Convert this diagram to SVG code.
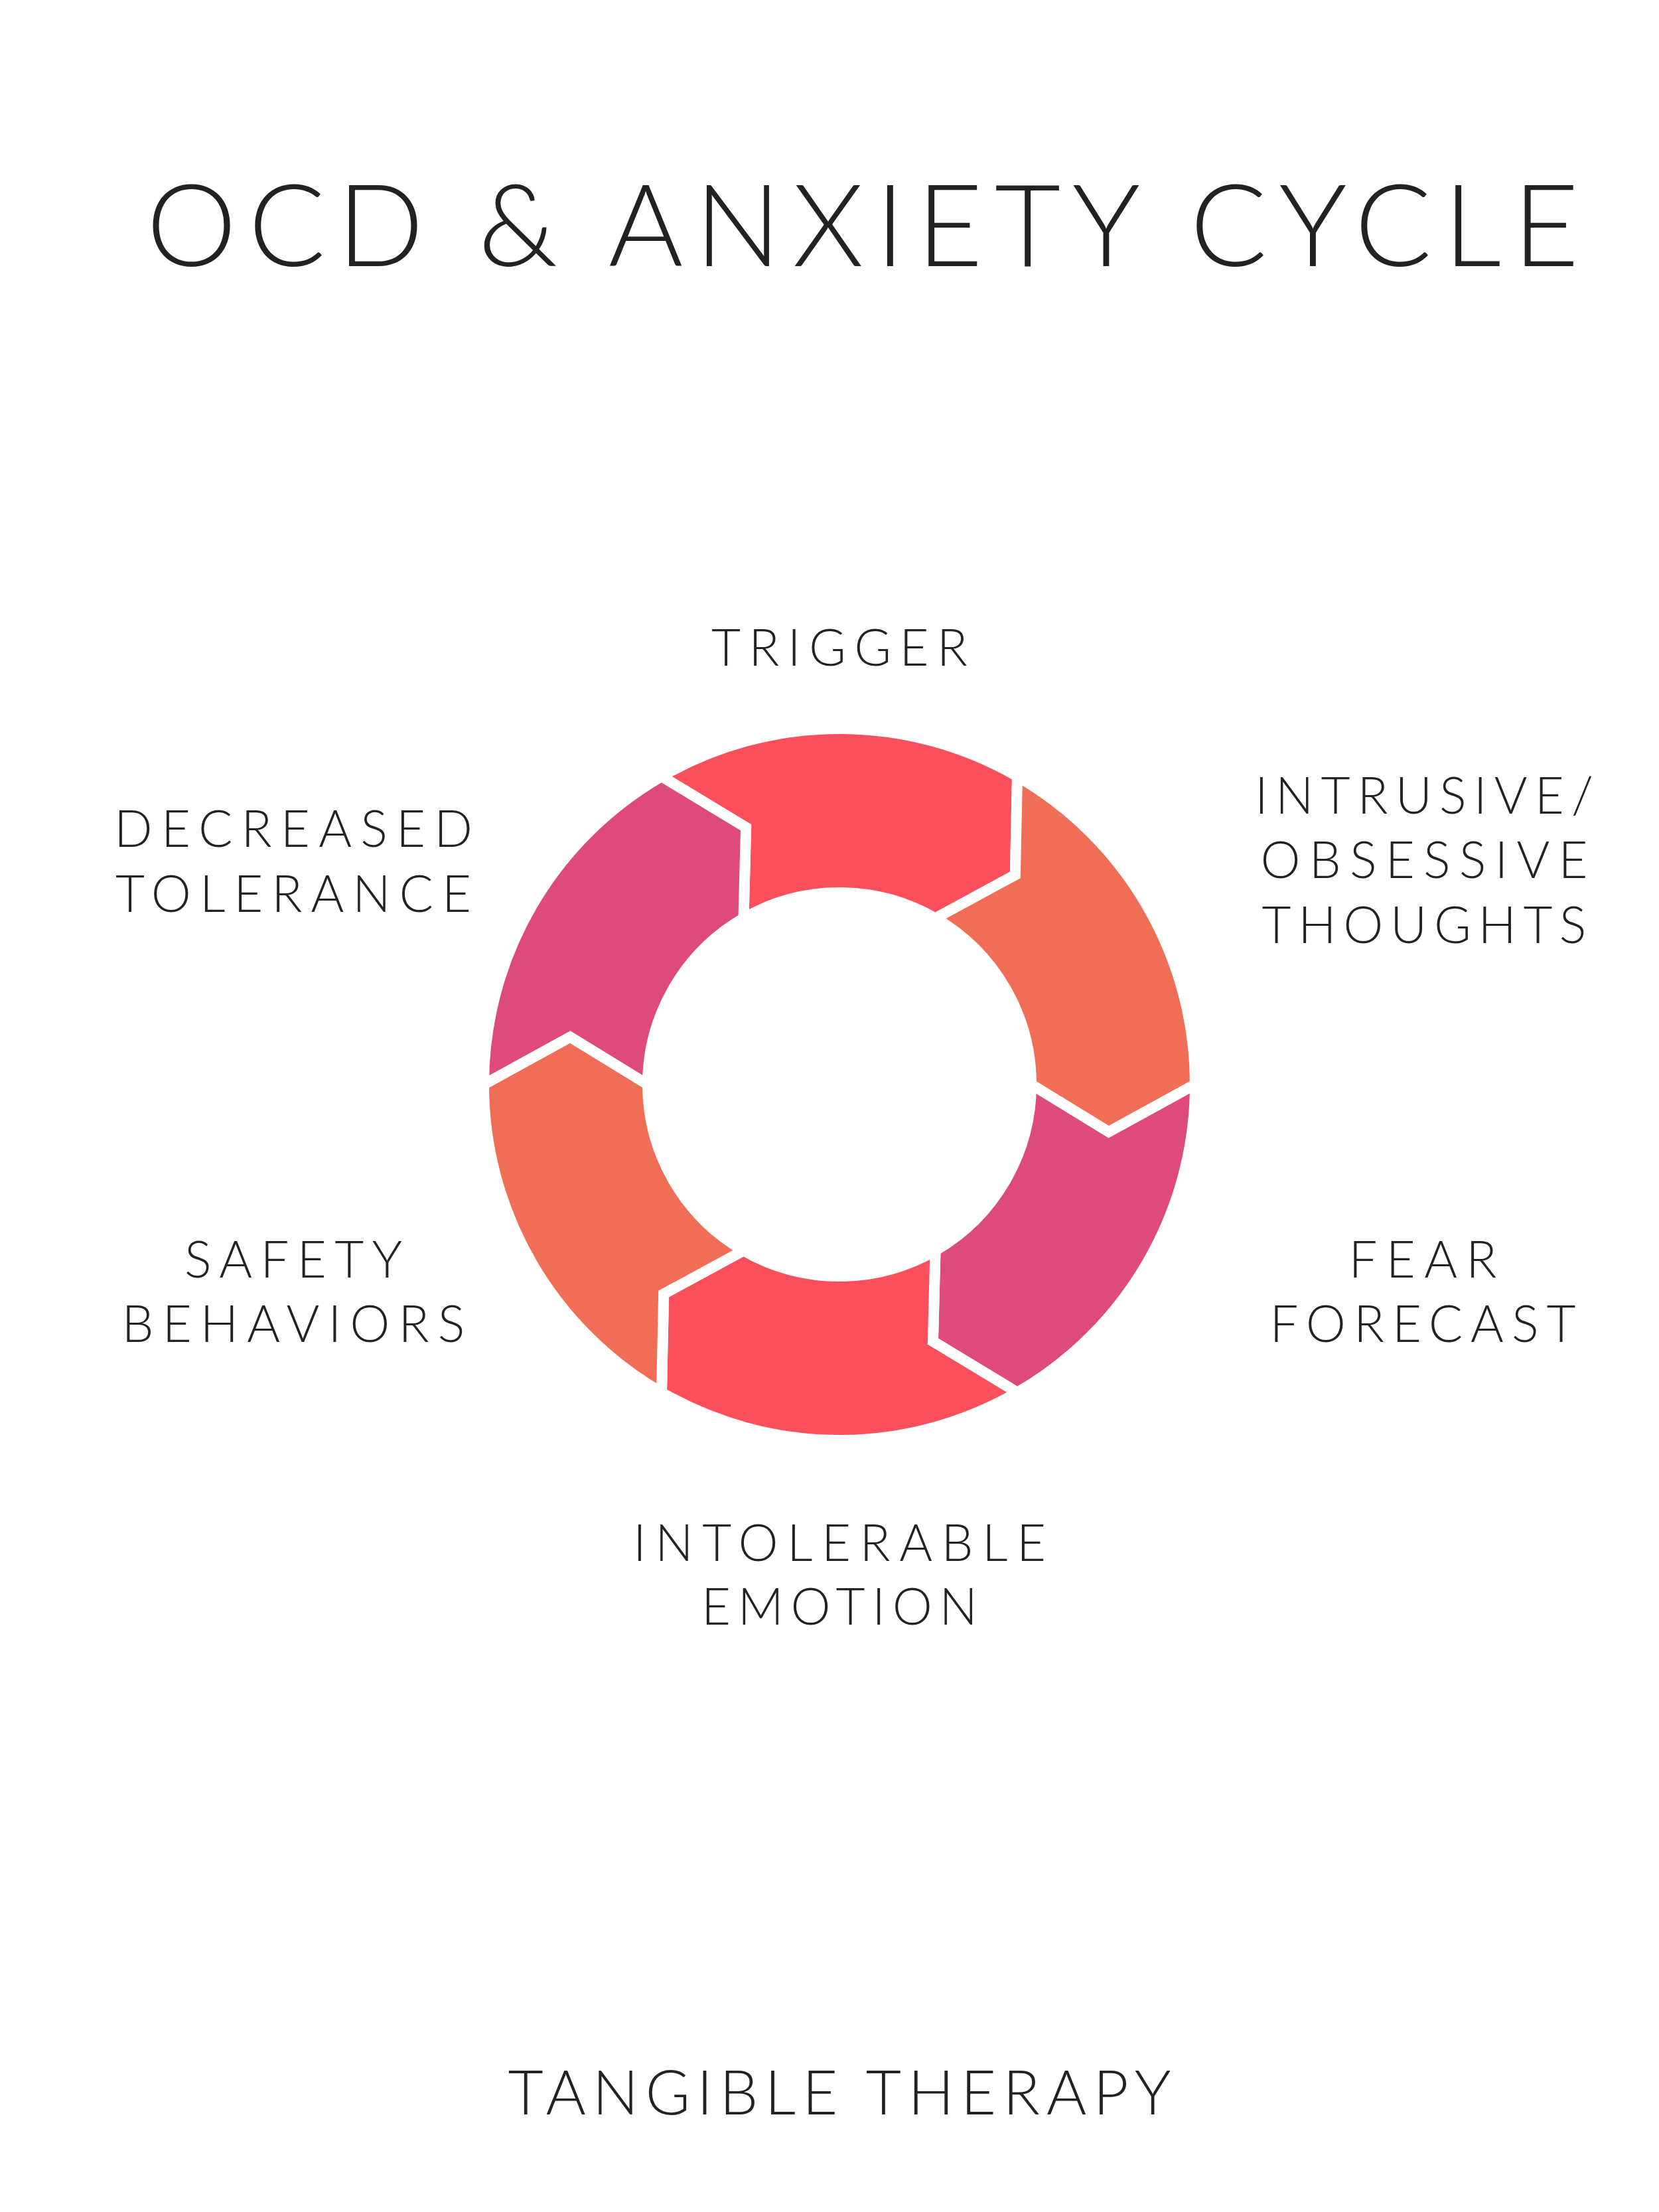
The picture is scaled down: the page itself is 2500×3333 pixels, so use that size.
<svg xmlns="http://www.w3.org/2000/svg" xmlns:xlink="http://www.w3.org/1999/xlink" width="2500" height="3333" viewBox="0 0 2500 3333">
<style>
text{font-family:Lato,"Liberation Sans",sans-serif;font-weight:300;fill:#222;text-anchor:middle}
.l{font-size:76px}
.seg{stroke:#fff;stroke-width:16;stroke-linejoin:miter}
</style>
<defs>
<path id="s" d="M-268,-464.2 A536,536 0 0 1 268,-464.2 L264.8,-315.6 L144.5,-250.3 A289,289 0 0 0 -144.5,-250.3 L-140.9,-387.2 Z"/>
</defs>
<rect width="2500" height="3333" fill="#fff"/>
<text x="1300" y="401" font-size="172" textLength="2159" lengthAdjust="spacing">OCD &amp; ANXIETY CYCLE</text>
<g id="connectors"/>
<g transform="translate(1265,1634)">
<g id="trigger"><use xlink:href="#s" class="seg" fill="#FB4F5C"/></g>
<g id="intrusive"><use xlink:href="#s" class="seg" fill="#F06E55" transform="rotate(60)"/></g>
<g id="fear"><use xlink:href="#s" class="seg" fill="#DE4A7C" transform="rotate(120)"/></g>
<g id="emotion"><use xlink:href="#s" class="seg" fill="#FB4F5C" transform="rotate(180)"/></g>
<g id="safety"><use xlink:href="#s" class="seg" fill="#F06E55" transform="rotate(240)"/></g>
<g id="tolerance"><use xlink:href="#s" class="seg" fill="#DE4A7C" transform="rotate(300)"/></g>
</g>
<g id="labels">
<text class="l" x="1265" y="1003" textLength="386" lengthAdjust="spacing">TRIGGER</text>
<text class="l" x="442" y="1276" textLength="540" lengthAdjust="spacing">DECREASED</text>
<text class="l" x="442" y="1374" textLength="536" lengthAdjust="spacing">TOLERANCE</text>
<text class="l" x="2146" y="1226" textLength="510" lengthAdjust="spacing">INTRUSIVE/</text>
<text class="l" x="2146" y="1323" textLength="493" lengthAdjust="spacing">OBSESSIVE</text>
<text class="l" x="2146" y="1421" textLength="489" lengthAdjust="spacing">THOUGHTS</text>
<text class="l" x="2144" y="1925" textLength="223" lengthAdjust="spacing">FEAR</text>
<text class="l" x="2144" y="2022" textLength="461" lengthAdjust="spacing">FORECAST</text>
<text class="l" x="442" y="1925" textLength="328" lengthAdjust="spacing">SAFETY</text>
<text class="l" x="442" y="2022" textLength="517" lengthAdjust="spacing">BEHAVIORS</text>
<text class="l" x="1265" y="2352" textLength="622" lengthAdjust="spacing">INTOLERABLE</text>
<text class="l" x="1265" y="2448" textLength="416" lengthAdjust="spacing">EMOTION</text>
<text x="1265" y="3186" font-size="92" textLength="999" lengthAdjust="spacing">TANGIBLE THERAPY</text>
</g>
</svg>
